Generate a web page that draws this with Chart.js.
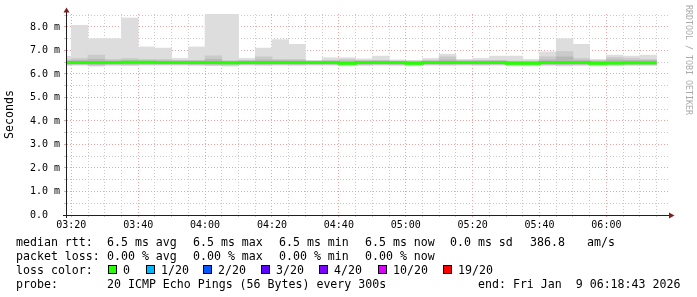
<!DOCTYPE html>
<html>
<head>
<meta charset="utf-8">
<script src="https://cdn.jsdelivr.net/npm/chart.js@4.4.1/dist/chart.umd.min.js"></script>
<style>
  html, body { margin: 0; padding: 0; background: #fff; }
</style>
</head>
<body>
<canvas id="smoke" width="697" height="297"></canvas>
<script>
/* smokeping style latency graph, last 3h */
const MONO = '"DejaVu Sans Mono", "Liberation Mono", monospace';

// 5 min slots (start of each step)
const times = ['03:15','03:20','03:25','03:30','03:35','03:40','03:45','03:50','03:55',
  '04:00','04:05','04:10','04:15','04:20','04:25','04:30','04:35','04:40','04:45','04:50','04:55',
  '05:00','05:05','05:10','05:15','05:20','05:25','05:30','05:35','05:40','05:45','05:50','05:55',
  '06:00','06:05','06:10'];
const lastStepEnd = '06:15';

// ping spread (ms)
const pingMax = [6.75, 8.07, 7.5, 7.5, 8.38, 7.15, 7.1, 6.66, 7.15,
  8.6, 8.6, 6.66, 7.1, 7.46, 7.26, 6.58, 6.69, 6.69, 6.64, 6.76, 6.6,
  6.58, 6.66, 6.84, 6.62, 6.66, 6.76, 6.76, 6.62, 6.94, 7.5, 7.26, 6.62,
  6.8, 6.76, 6.8];
const pingHighQ = [6.6, 6.66, 6.8, 6.62, 6.66, 6.62, 6.62, 6.58, 6.58,
  6.77, 6.55, 6.58, 6.73, 6.62, 6.62, 6.55, 6.58, 6.62, 6.58, 6.58, 6.55,
  6.55, 6.58, 6.73, 6.58, 6.58, 6.58, 6.55, 6.55, 6.73, 6.95, 6.66, 6.58,
  6.7, 6.66, 6.62];
const pingCoreHigh = [6.56, 6.58, 6.62, 6.56, 6.58, 6.56, 6.56, 6.56, 6.56,
  6.62, 6.55, 6.56, 6.6, 6.58, 6.57, 6.54, 6.55, 6.55, 6.55, 6.56, 6.54,
  6.53, 6.55, 6.6, 6.55, 6.56, 6.56, 6.53, 6.53, 6.6, 6.73, 6.58, 6.54,
  6.6, 6.58, 6.57];
const pingCoreLow = [6.42, 6.43, 6.4, 6.43, 6.42, 6.43, 6.43, 6.43, 6.42,
  6.41, 6.42, 6.43, 6.42, 6.43, 6.42, 6.43, 6.43, 6.4, 6.42, 6.43, 6.42,
  6.4, 6.43, 6.42, 6.43, 6.42, 6.43, 6.4, 6.4, 6.42, 6.41, 6.42, 6.4,
  6.41, 6.42, 6.42];
const pingLowQ = [6.39, 6.4, 6.36, 6.39, 6.39, 6.4, 6.4, 6.4, 6.39,
  6.38, 6.38, 6.4, 6.39, 6.4, 6.39, 6.4, 6.4, 6.37, 6.39, 6.4, 6.39,
  6.37, 6.4, 6.39, 6.4, 6.39, 6.4, 6.37, 6.37, 6.39, 6.38, 6.39, 6.37,
  6.38, 6.39, 6.39];
const pingMin = [6.36, 6.37, 6.33, 6.36, 6.35, 6.37, 6.37, 6.37, 6.36,
  6.35, 6.33, 6.37, 6.36, 6.37, 6.36, 6.37, 6.37, 6.34, 6.36, 6.37, 6.36,
  6.34, 6.37, 6.36, 6.37, 6.36, 6.37, 6.34, 6.34, 6.36, 6.34, 6.36, 6.34,
  6.35, 6.36, 6.36];
const median = [6.49, 6.49, 6.49, 6.49, 6.5, 6.5, 6.49, 6.49, 6.49,
  6.49, 6.48, 6.49, 6.49, 6.49, 6.49, 6.49, 6.49, 6.45, 6.49, 6.49, 6.49,
  6.45, 6.49, 6.49, 6.49, 6.49, 6.49, 6.45, 6.45, 6.49, 6.49, 6.49, 6.45,
  6.47, 6.48, 6.48];

// axes
const xLabelTimes = ['03:20','03:40','04:00','04:20','04:40','05:00','05:20','05:40','06:00'];
const yTicks = [0, 0.5, 1, 1.5, 2, 2.5, 3, 3.5, 4, 4.5, 5, 5.5, 6, 6.5, 7, 7.5, 8, 8.5];
const yTickLabels = { 0: '0.0  ', 1: '1.0 m', 2: '2.0 m', 3: '3.0 m', 4: '4.0 m', 5: '5.0 m', 6: '6.0 m', 7: '7.0 m', 8: '8.0 m' };

// legend
const rttStats = ['6.5 ms avg', '6.5 ms max', '6.5 ms min', '6.5 ms now', '0.0 ms sd', '386.8', 'am/s'];
const lossStats = ['0.00 % avg', '0.00 % max', '0.00 % min', '0.00 % now'];
const lossLabels = ['0', '1/20', '2/20', '3/20', '4/20', '10/20', '19/20'];
const lossColors = ['#26ff00', '#00b8ff', '#0059ff', '#5e00ff', '#7e00ff', '#dd00ff', '#ff0000'];
const probeText = '20 ICMP Echo Pings (56 Bytes) every 300s';
const endText = 'end: Fri Jan  9 06:18:43 2026';

const toMin = s => { const [h, m] = s.split(':').map(Number); return h * 60 + m; };
const fmt = v => String(Math.floor(v / 60)).padStart(2, '0') + ':' + String(v % 60).padStart(2, '0');
const viewEnd = toMin('06:18') + 43 / 60;
const viewStart = viewEnd - 180;
const STEP = 5;

const band = (lo, hi) => times.map((t, i) => ({ x: toMin(t) + STEP / 2, y: [lo[i], hi[i]] }));
const medianPts = times.map((t, i) => ({ x: toMin(t), y: median[i] }))
  .concat([{ x: toMin(lastStepEnd), y: median[median.length - 1] }]);

const GRID = '#cbcbcb', MGRID = '#eba3a3', AXIS = '#1f1f1f', ARROW = '#801f1f';

const deco = {
  id: 'deco',
  afterDraw(chart) {
    const ctx = chart.ctx, a = chart.chartArea;
    ctx.save();
    // axes + arrows
    ctx.strokeStyle = AXIS; ctx.lineWidth = 1;
    ctx.beginPath();
    ctx.moveTo(63, a.bottom + 0.5); ctx.lineTo(669, a.bottom + 0.5);
    ctx.moveTo(a.left - 0.5, a.bottom + 3); ctx.lineTo(a.left - 0.5, 11);
    ctx.stroke();
    ctx.fillStyle = ARROW;
    ctx.beginPath();
    ctx.moveTo(a.left - 0.5, 7.5); ctx.lineTo(a.left - 3.5, 12.5); ctx.lineTo(a.left + 2.5, 12.5);
    ctx.closePath(); ctx.fill();
    ctx.beginPath();
    ctx.moveTo(674.5, a.bottom + 0.5); ctx.lineTo(669, a.bottom - 2.5); ctx.lineTo(669, a.bottom + 3.5);
    ctx.closePath(); ctx.fill();

    // watermark
    ctx.save();
    ctx.translate(688.5, 5);
    ctx.rotate(Math.PI / 2);
    ctx.font = '8.3px ' + MONO;
    ctx.fillStyle = '#aaaaaa';
    ctx.textBaseline = 'middle';
    ctx.fillText('RRDTOOL / TOBI OETIKER', 0, 0);
    ctx.restore();

    // legend block
    ctx.font = '11.6px ' + MONO;
    ctx.fillStyle = '#000';
    ctx.textBaseline = 'alphabetic';
    ctx.fillText('median rtt:', 16, 246);
    [107, 193, 279, 365, 450, 530, 587].forEach((x, i) => ctx.fillText(rttStats[i], x, 246));
    ctx.fillText('packet loss:', 16, 260);
    [107, 193, 279, 365].forEach((x, i) => ctx.fillText(lossStats[i], x, 260));
    ctx.fillText('loss color:', 16, 274);
    [108, 146, 203, 261, 319, 378, 443].forEach((x, i) => {
      ctx.fillStyle = lossColors[i];
      ctx.fillRect(x, 265, 9, 9);
      ctx.strokeStyle = '#000';
      ctx.strokeRect(x + 0.5, 265.5, 8, 8);
      ctx.fillStyle = '#000';
      ctx.fillText(lossLabels[i], x + 15, 274);
    });
    ctx.fillText('probe:', 16, 288);
    ctx.fillText(probeText, 107, 288);
    ctx.fillText(endText, 478, 288);
    ctx.restore();
  }
};

const barDefaults = { type: 'bar', grouped: false, barPercentage: 1, categoryPercentage: 1, borderWidth: 0, clip: 0 };

new Chart(document.getElementById('smoke'), {
  type: 'bar',
  data: {
    datasets: [
      { type: 'line', label: 'median', data: medianPts, borderColor: '#26ff00', borderWidth: 3,
        stepped: true, pointRadius: 0, borderCapStyle: 'butt', clip: 0, order: 0 },
      Object.assign({ label: 'core', data: band(pingCoreLow, pingCoreHigh), backgroundColor: '#b7b7b7', order: 1 }, barDefaults),
      Object.assign({ label: 'quartiles', data: band(pingLowQ, pingHighQ), backgroundColor: '#cacaca', order: 2 }, barDefaults),
      Object.assign({ label: 'min-max', data: band(pingMin, pingMax), backgroundColor: '#dddddd', order: 3 }, barDefaults)
    ]
  },
  options: {
    responsive: false,
    animation: false,
    events: [],
    layout: { padding: { top: 14, right: 28, left: 0, bottom: 0 } },
    plugins: { legend: { display: false }, tooltip: { enabled: false } },
    scales: {
      x: {
        type: 'linear', min: viewStart, max: viewEnd, offset: false,
        afterFit: s => { s.height = 82; },
        afterBuildTicks: s => {
          const t = [];
          for (let v = Math.ceil(viewStart / STEP) * STEP; v < viewEnd; v += STEP) t.push({ value: v });
          s.ticks = t;
        },
        grid: {
          offset: false, tickLength: 2,
          color: c => (c.tick && c.tick.value % 20 === 0 ? MGRID : GRID)
        },
        border: { display: false, dash: [1, 2] },
        ticks: {
          autoSkip: false, maxRotation: 0, padding: 2, color: '#000',
          font: { family: MONO, size: 10 },
          callback: v => (xLabelTimes.includes(fmt(v)) ? fmt(v) : '')
        }
      },
      y: {
        min: 0, max: 8.55,
        afterFit: s => { s.width = 67; },
        afterBuildTicks: s => { s.ticks = yTicks.map(v => ({ value: v })); },
        grid: {
          tickLength: 3,
          color: c => (c.tick && c.tick.value % 1 === 0 ? MGRID : GRID)
        },
        border: { display: false, dash: [1, 2] },
        ticks: {
          autoSkip: false, padding: 4, color: '#000',
          font: { family: MONO, size: 10 },
          callback: v => yTickLabels[v] || ''
        },
        title: {
          display: true, text: 'Seconds', color: '#000',
          font: { family: MONO, size: 11.6 }, padding: { top: 3.5, bottom: 0 }
        }
      }
    }
  },
  plugins: [deco]
});
</script>
</body>
</html>
